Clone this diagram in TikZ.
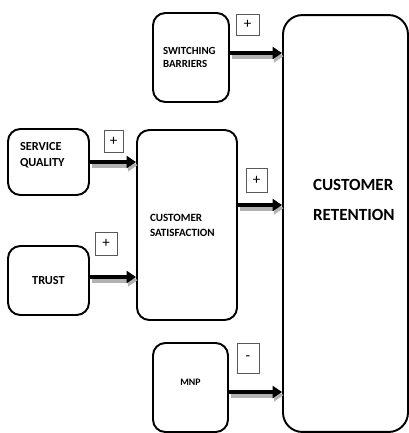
\documentclass[tikz,border=0pt]{standalone}
\usepackage{fontspec}
\setmainfont{Carlito}
\usetikzlibrary{arrows.meta,positioning,calc}
\newcommand{\flow}[2]{\draw[shd] ($#1+(0.9pt,-1.8pt)$) -- ($#2+(0.9pt,-1.8pt)$); \draw[arr] #1 -- #2;}

\begin{document}
\begin{tikzpicture}[x=0.02cm,y=-0.02cm,
  bx/.style={rounded corners=7pt,draw,line width=1.1pt,align=left,inner sep=0pt},
  sg/.style={draw=black!65,line width=0.5pt,inner sep=0pt,font=\fontsize{8.5}{9}\selectfont},
  arr/.style={-{Triangle[length=1.9mm,width=2.4mm]},line width=2.8pt},
  shd/.style={arr,draw=black!30}]
\useasboundingbox (0,0) rectangle (409,433);
% boxes
\node[bx,minimum width=1.52cm,minimum height=1.78cm,text width=1.12cm,
  font=\fontsize{6.2}{7.6}\selectfont\bfseries] (sb) at (191,57.5)
  {SWITCHING\\BARRIERS};
\node[bx,rounded corners=11pt,minimum width=2.5cm,minimum height=8.34cm,text width=1.3cm,
  text depth=1.54cm,font=\fontsize{9.7}{17}\selectfont\bfseries] (ret) at (345.5,223.5)
  {CUSTOMER\\RETENTION};
\node[bx,minimum width=1.62cm,minimum height=1.32cm,text width=1.14cm,
  text depth=0.64cm,font=\fontsize{7}{9.6}\selectfont\bfseries] (sq) at (48.5,162)
  {SERVICE\\QUALITY};
\node[bx,minimum width=2.0cm,minimum height=3.8cm,text width=1.48cm,
  font=\fontsize{6.3}{8.6}\selectfont\bfseries] (sat) at (187,225)
  {CUSTOMER\\SATISFACTION};
\node[bx,minimum width=1.62cm,minimum height=1.38cm,align=center,
  font=\fontsize{7}{9}\selectfont\bfseries] (tr) at (48.5,280.5) {TRUST};
\node[bx,minimum width=1.5cm,minimum height=1.78cm,align=center,text depth=0.22cm,
  font=\fontsize{5.6}{7}\selectfont\bfseries] (mnp) at (190.5,387.5) {MNP};
% signs
\node[sg,minimum width=0.46cm,minimum height=0.42cm] (ssb) at (247.5,24.5) {+};
\node[sg,minimum width=0.38cm,minimum height=0.44cm] (ssq) at (113.5,141) {+};
\node[sg,minimum width=0.42cm,minimum height=0.48cm] (ssat) at (256.5,180) {+};
\node[sg,minimum width=0.44cm,minimum height=0.46cm] (str) at (106,243.5) {+};
\node[sg,minimum width=0.44cm,minimum height=0.6cm] (smnp) at (248,358) {-};
% arrows
\flow{([yshift=0.09cm]sb.east)}{([yshift=0.09cm]sb.east -| ret.west)}
\flow{(sq.east)}{(sq.east -| sat.west)}
\flow{([yshift=0.07cm]tr.east)}{([yshift=0.07cm]tr.east -| sat.west)}
\flow{([yshift=0.4cm]sat.east)}{([yshift=0.4cm]sat.east -| ret.west)}
\flow{([yshift=-0.09cm]mnp.east)}{([yshift=-0.09cm]mnp.east -| ret.west)}
\end{tikzpicture}
\end{document}
